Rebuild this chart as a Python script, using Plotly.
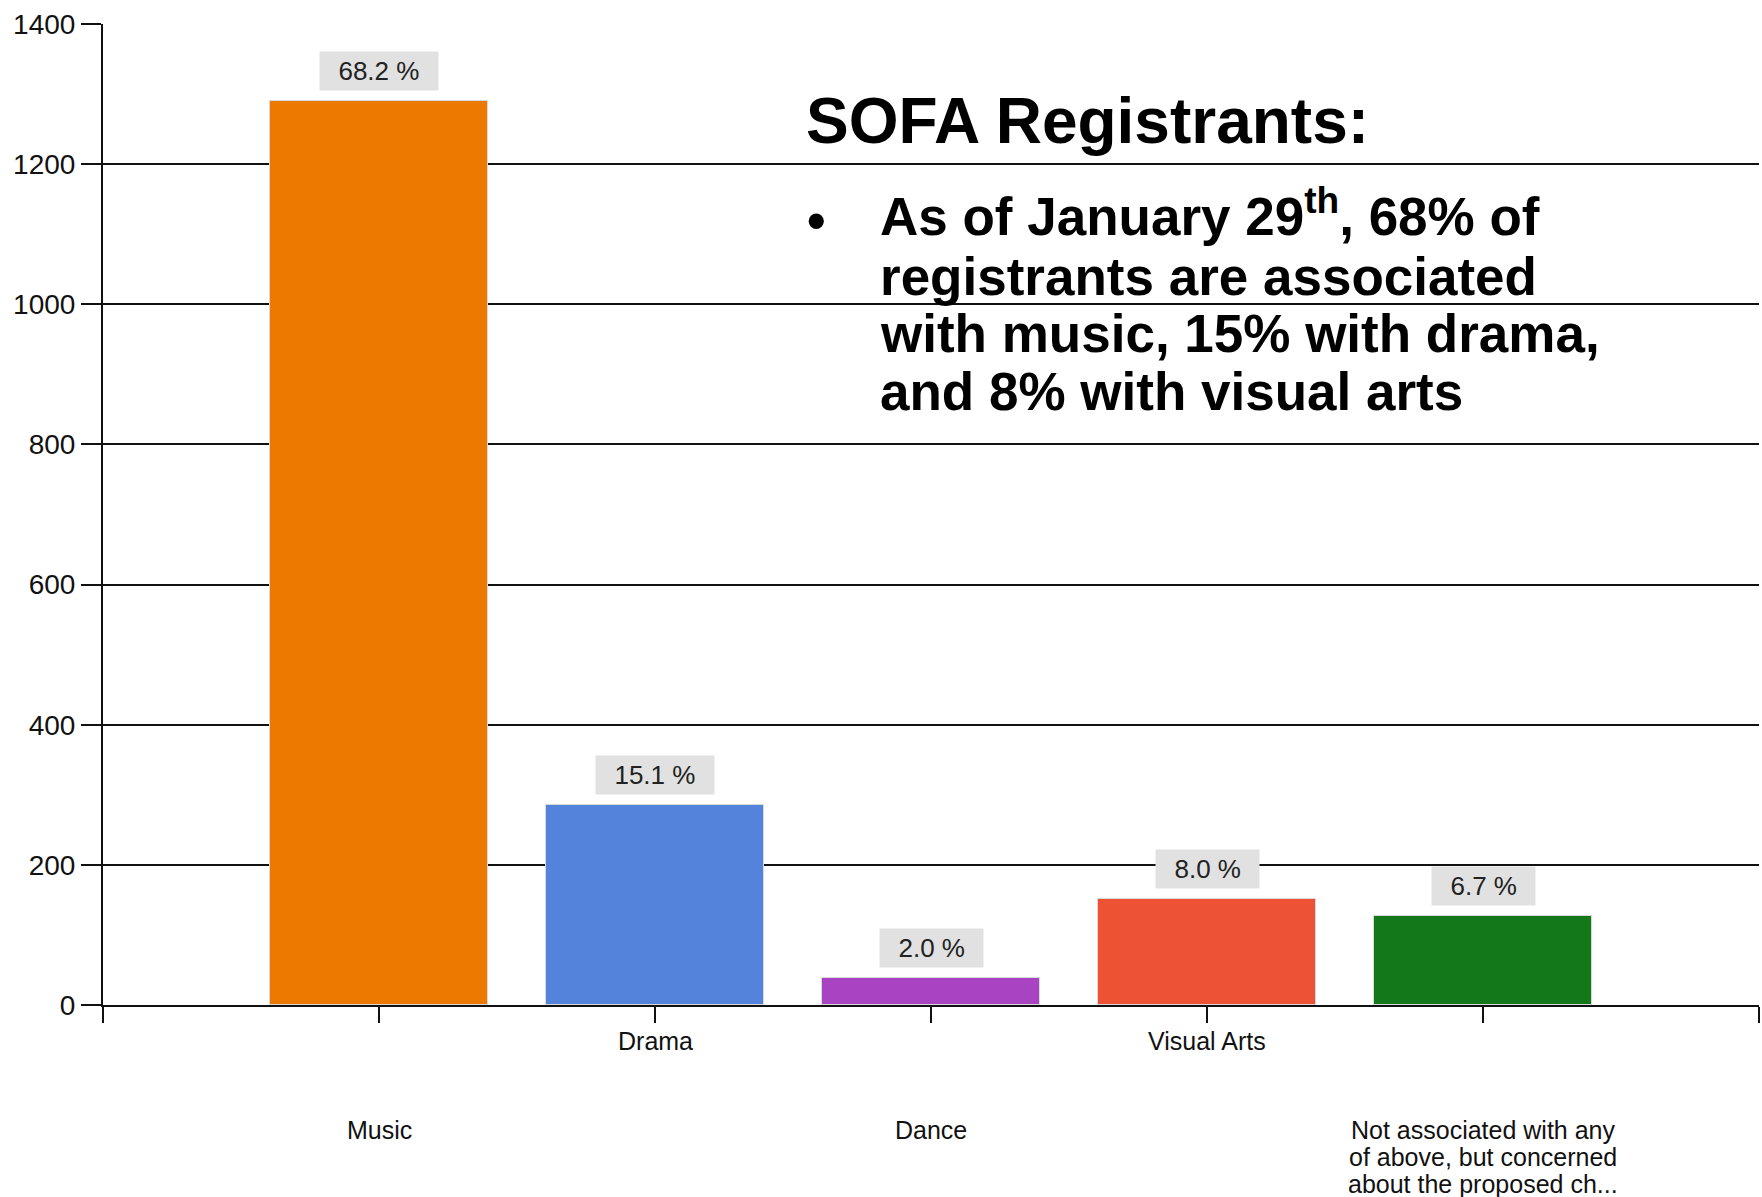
import plotly.graph_objects as go

categories = [
    "Music",
    "Drama",
    "Dance",
    "Visual Arts",
    "Not associated with any<br>of above, but concerned<br>about the proposed ch...",
]
registrants = [1290, 286, 38, 151, 127]
share_labels = ["68.2 %", "15.1 %", "2.0 %", "8.0 %", "6.7 %"]
y_ticks = [0, 200, 400, 600, 800, 1000, 1200, 1400]

headline = "SOFA Registrants:"
bullet_lines = [
    "As of January 29<sup>th</sup>, 68% of",
    "registrants are associated",
    "with music, 15% with drama,",
    "and 8% with visual arts",
]

bar_colors = ["#EC7A00", "#5383DA", "#A843C2", "#EC5233", "#13781A"]

W, H = 1762, 1197
L, R, T, B = 103, 3, 24, 192
FONT = "Arial, Liberation Sans, sans-serif"


def paper_x(px):
    return (px - L) / (W - L - R)


def paper_y(py):
    return (H - B - py) / (H - T - B)


x_pos = list(range(len(categories)))

fig = go.Figure()
fig.add_trace(
    go.Bar(
        x=x_pos,
        y=registrants,
        width=0.79,
        marker=dict(color=bar_colors, line=dict(color="#d9d9d9", width=1)),
        hoverinfo="y",
    )
)

annotations = []
for i, (val, lab) in enumerate(zip(registrants, share_labels)):
    annotations.append(
        dict(
            x=i, y=val, xref="x", yref="y",
            text="\u00a0\u00a0" + lab + "\u00a0\u00a0",
            showarrow=False, yanchor="bottom", yshift=10,
            bgcolor="#e1e1e1", borderpad=4,
            font=dict(family=FONT, size=26, color="#222222"),
        )
    )

# category names sit on two staggered rows under the axis
for i, name in enumerate(categories):
    base = -36 if i % 2 else -125
    for j, line in enumerate(name.split("<br>")):
        annotations.append(
            dict(
                x=i, y=0, xref="x", yref="y",
                text=line, showarrow=False, yanchor="middle",
                yshift=base - 27 * j,
                font=dict(family=FONT, size=25, color="#111111"),
            )
        )

annotations.append(
    dict(
        x=paper_x(804), y=paper_y(121), xref="paper", yref="paper",
        text="<b>" + headline + "</b>", showarrow=False,
        xanchor="left", yanchor="middle",
        font=dict(family=FONT, size=64, color="#000000"),
    )
)
annotations.append(
    dict(
        x=paper_x(816), y=paper_y(220), xref="paper", yref="paper",
        text="<b>\u2022</b>", showarrow=False,
        xanchor="center", yanchor="middle",
        font=dict(family=FONT, size=53, color="#000000"),
    )
)
for k, line in enumerate(bullet_lines):
    centre = 213 if k == 0 else 220 + 57 * k
    annotations.append(
        dict(
            x=paper_x(878), y=paper_y(centre), xref="paper", yref="paper",
            text="<b>" + line + "</b>", showarrow=False,
            xanchor="left", yanchor="middle",
            font=dict(family=FONT, size=53, color="#000000"),
        )
    )

fig.update_layout(
    width=W,
    height=H,
    margin=dict(l=L, r=R, t=T, b=B, pad=0),
    paper_bgcolor="white",
    plot_bgcolor="white",
    showlegend=False,
    bargap=0,
    annotations=annotations,
    font=dict(family=FONT, color="#111111"),
)
fig.update_xaxes(
    type="linear",
    range=[-1, 5],
    tickvals=list(range(-1, 6)),
    showticklabels=False,
    ticks="outside",
    ticklen=16,
    tickwidth=2,
    tickcolor="#111111",
    showline=True,
    linecolor="#111111",
    linewidth=2,
    showgrid=False,
    zeroline=False,
)
fig.update_yaxes(
    range=[0, 1400],
    tickvals=y_ticks,
    ticks="outside",
    ticklen=20,
    tickwidth=2,
    tickcolor="#111111",
    showline=True,
    linecolor="#111111",
    linewidth=2,
    showgrid=True,
    gridcolor="#111111",
    gridwidth=2,
    zeroline=False,
    tickfont=dict(family=FONT, size=28, color="#111111"),
)

fig.write_html(
    "out.html",
    config={"displayModeBar": False},
    post_script="document.body.style.margin='0';",
)
